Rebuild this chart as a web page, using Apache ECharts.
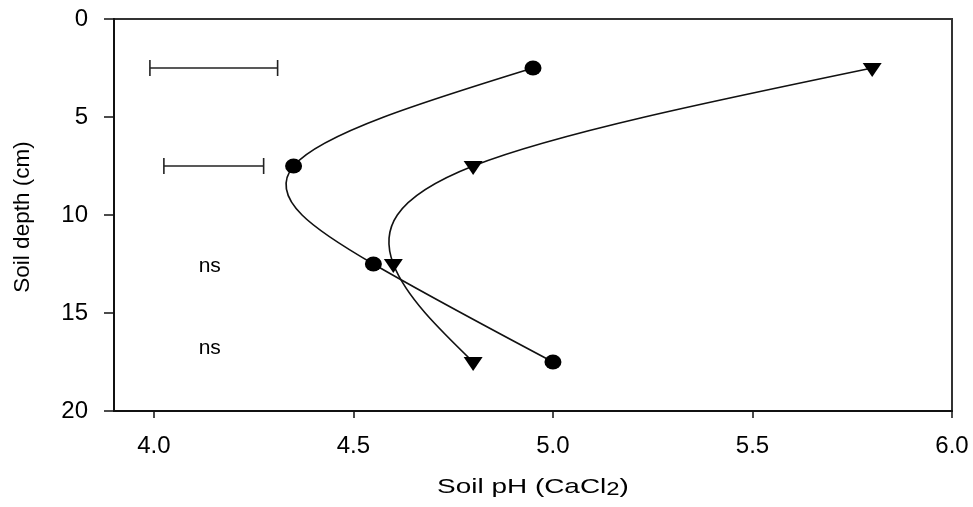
<!DOCTYPE html>
<html>
<head>
<meta charset="utf-8">
<script src="https://cdn.jsdelivr.net/npm/echarts@6/dist/echarts.min.js"></script>
<style>html,body{margin:0;padding:0;background:#fff}#c{width:973px;height:507px}</style>
</head>
<body>
<div id="c"></div>
<script>
// ---- data ----
const depths = [2.5, 7.5, 12.5, 17.5];          // soil depth (cm)
const phCircle = [4.95, 4.35, 4.55, 5.00];      // filled circles
const phTriangle = [5.80, 4.80, 4.60, 4.80];    // filled down-triangles
const errDepths = [2.5, 7.5];                   // LSD bars
const errLow = [3.99, 4.025];
const errHigh = [4.31, 4.275];
const nsDepths = [12.6, 16.8];
const nsPh = [4.14, 4.14];
const nsText = ['ns', 'ns'];
const xTickValues = [4.0, 4.5, 5.0, 5.5, 6.0];
const xTitleParts = ['Soil pH (CaCl', '2', ')'];
const yTitle = 'Soil depth (cm)';

const FONT = "'Liberation Sans', Arial, Helvetica, sans-serif";
const INK = '#111';

// natural cubic spline x(y) -> bezier control points in data space
function splineSegments(ys, xs) {
  const n = ys.length;
  const h = [];
  for (let i = 0; i < n - 1; i++) h.push(ys[i + 1] - ys[i]);
  const M = new Array(n).fill(0);
  const m = n - 2;
  if (m > 0) {
    const a = [], b = [], c = [], d = [];
    for (let i = 1; i <= m; i++) {
      a.push(h[i - 1]);
      b.push(2 * (h[i - 1] + h[i]));
      c.push(h[i]);
      d.push(6 * ((xs[i + 1] - xs[i]) / h[i] - (xs[i] - xs[i - 1]) / h[i - 1]));
    }
    const cp = [], dp = [];
    cp[0] = c[0] / b[0]; dp[0] = d[0] / b[0];
    for (let i = 1; i < m; i++) {
      const den = b[i] - a[i] * cp[i - 1];
      cp[i] = c[i] / den;
      dp[i] = (d[i] - a[i] * dp[i - 1]) / den;
    }
    const sol = new Array(m);
    sol[m - 1] = dp[m - 1];
    for (let i = m - 2; i >= 0; i--) sol[i] = dp[i] - cp[i] * sol[i + 1];
    for (let i = 0; i < m; i++) M[i + 1] = sol[i];
  }
  const segs = [];
  for (let i = 0; i < n - 1; i++) {
    const hh = h[i];
    const lin = (xs[i + 1] - xs[i]) / hh;
    const s0 = lin - hh * (2 * M[i] + M[i + 1]) / 6;
    const s1 = lin + hh * (M[i] + 2 * M[i + 1]) / 6;
    segs.push({
      p0: [xs[i], ys[i]],
      c1: [xs[i] + s0 * hh / 3, ys[i] + hh / 3],
      c2: [xs[i + 1] - s1 * hh / 3, ys[i + 1] - hh / 3],
      p1: [xs[i + 1], ys[i + 1]]
    });
  }
  return segs;
}

function splineSeries(xs, name) {
  const segs = splineSegments(depths, xs);
  return {
    type: 'custom',
    name: name,
    coordinateSystem: 'cartesian2d',
    data: xs.map((x, i) => [x, depths[i]]),
    encode: { x: 0, y: 1 },
    z: 2,
    silent: true,
    renderItem: function (params, api) {
      const s = segs[params.dataIndex];
      if (!s) return null;
      const a = api.coord(s.p0), b = api.coord(s.c1), c = api.coord(s.c2), d = api.coord(s.p1);
      return {
        type: 'bezierCurve',
        shape: { x1: a[0], y1: a[1], cpx1: b[0], cpy1: b[1], cpx2: c[0], cpy2: c[1], x2: d[0], y2: d[1] },
        style: { stroke: INK, lineWidth: 1.6, fill: null }
      };
    }
  };
}

// x-axis title with a real subscript, built from three text pieces
const mctx = document.createElement('canvas').getContext('2d');
function textWidth(t, size) { mctx.font = size + 'px ' + FONT; return mctx.measureText(t).width; }
const MAIN_SIZE = 21, SUB_SIZE = 18;
const w0 = textWidth(xTitleParts[0], MAIN_SIZE);
const w1 = textWidth(xTitleParts[1], SUB_SIZE);
const w2 = textWidth(xTitleParts[2], MAIN_SIZE);
const startX = -(w0 + w1 + w2) / 2;

const chart = echarts.init(document.getElementById('c'), null, { renderer: 'canvas' });
chart.setOption({
  animation: false,
  backgroundColor: '#fff',
  grid: { left: 114, right: 21, top: 19, bottom: 96, show: true, borderColor: '#333', borderWidth: 2, backgroundColor: 'transparent' },
  xAxis: {
    type: 'value', min: 3.9, max: 6.0,
    axisLine: { show: true, onZero: false, lineStyle: { color: INK, width: 2 } },
    axisTick: { show: true, length: 7, customValues: xTickValues, lineStyle: { color: INK, width: 1.5 } },
    axisLabel: { customValues: xTickValues, formatter: v => v.toFixed(1), fontFamily: FONT, fontSize: 24, color: '#000', margin: 23 },
    splitLine: { show: false }
  },
  yAxis: {
    type: 'value', min: 0, max: 20, interval: 5, inverse: true,
    axisLine: { show: true, onZero: false, lineStyle: { color: INK, width: 2 } },
    axisTick: { show: true, length: 10, lineStyle: { color: INK, width: 1.5 } },
    axisLabel: { fontFamily: FONT, fontSize: 24, color: '#000', margin: 26 },
    splitLine: { show: false }
  },
  graphic: [
    {
      type: 'group', x: 533, y: 487, scaleX: 1.33, z: 10,
      children: [
        { type: 'text', x: startX, y: 0, style: { text: xTitleParts[0], fontFamily: FONT, fontSize: MAIN_SIZE, fill: '#000', align: 'left', verticalAlign: 'middle' } },
        { type: 'text', x: startX + w0, y: 3.5, style: { text: xTitleParts[1], fontFamily: FONT, fontSize: SUB_SIZE, fill: '#000', align: 'left', verticalAlign: 'middle' } },
        { type: 'text', x: startX + w0 + w1, y: 0, style: { text: xTitleParts[2], fontFamily: FONT, fontSize: MAIN_SIZE, fill: '#000', align: 'left', verticalAlign: 'middle' } }
      ]
    },
    {
      type: 'text', x: 23, y: 217, rotation: Math.PI / 2, z: 10,
      style: { text: yTitle, fontFamily: FONT, fontSize: 22.5, fill: '#000', align: 'center', verticalAlign: 'middle' }
    }
  ],
  series: [
    splineSeries(phCircle, 'circle line'),
    splineSeries(phTriangle, 'triangle line'),
    {
      type: 'scatter', name: 'circles',
      data: phCircle.map((x, i) => [x, depths[i]]),
      symbol: 'circle', symbolSize: [17, 15],
      itemStyle: { color: '#000', opacity: 1 }, z: 5, silent: true
    },
    {
      type: 'scatter', name: 'triangles',
      data: phTriangle.map((x, i) => [x, depths[i]]),
      symbol: 'triangle', symbolRotate: 180, symbolSize: [19, 14], symbolOffset: [0, 2],
      itemStyle: { color: '#000', opacity: 1 }, z: 5, silent: true
    },
    {
      type: 'custom', name: 'error bars',
      data: errDepths.map((d, i) => [errLow[i], errHigh[i], d]),
      encode: { x: [0, 1], y: 2 },
      silent: true, z: 3,
      renderItem: function (params, api) {
        const a = api.coord([api.value(0), api.value(2)]);
        const b = api.coord([api.value(1), api.value(2)]);
        const st = { stroke: '#222', lineWidth: 1.6 };
        const cap = 8;
        return {
          type: 'group',
          children: [
            { type: 'line', shape: { x1: a[0], y1: a[1], x2: b[0], y2: b[1] }, style: st },
            { type: 'line', shape: { x1: a[0], y1: a[1] - cap, x2: a[0], y2: a[1] + cap }, style: st },
            { type: 'line', shape: { x1: b[0], y1: b[1] - cap, x2: b[0], y2: b[1] + cap }, style: st }
          ]
        };
      }
    },
    {
      type: 'custom', name: 'ns',
      data: nsPh.map((x, i) => [x, nsDepths[i]]),
      encode: { x: 0, y: 1 },
      silent: true, z: 3,
      renderItem: function (params, api) {
        const p = api.coord([api.value(0), api.value(1)]);
        return {
          type: 'text', x: p[0], y: p[1],
          style: { text: nsText[params.dataIndex], fontFamily: FONT, fontSize: 21, fill: '#000', align: 'center', verticalAlign: 'middle' }
        };
      }
    }
  ]
});
</script>
</body>
</html>
